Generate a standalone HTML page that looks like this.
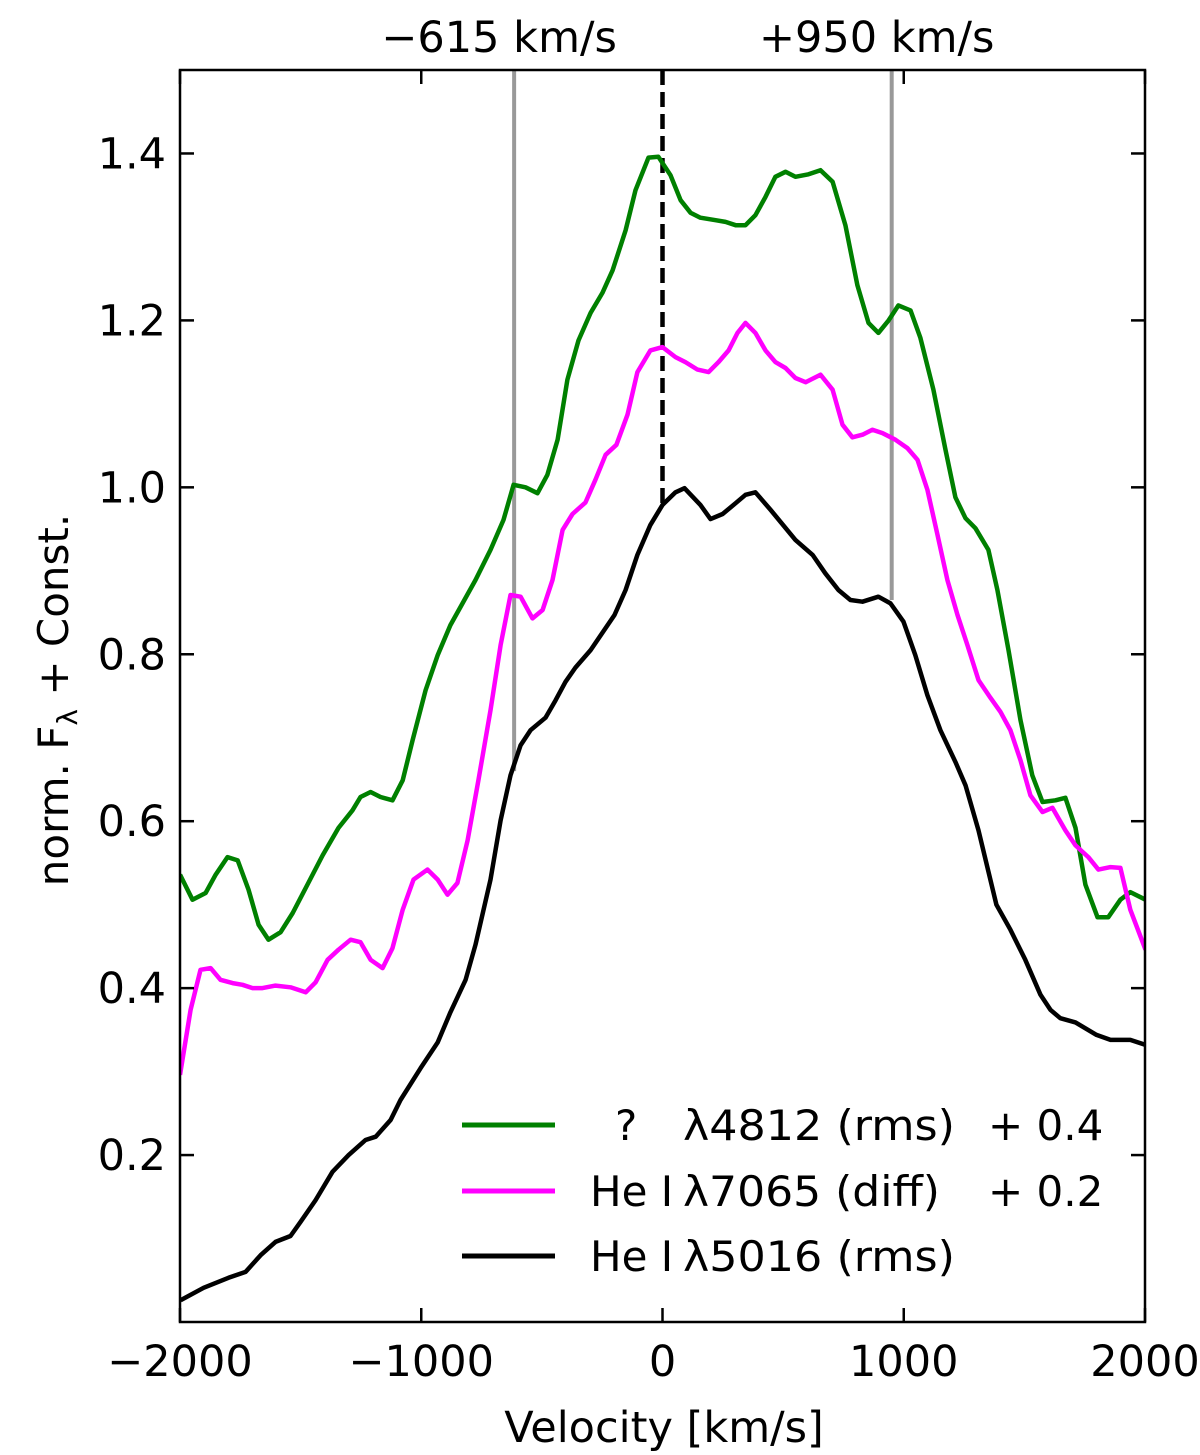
<!DOCTYPE html>
<html><head><meta charset="utf-8"><style>
html,body{margin:0;padding:0;background:#fff;}
svg{display:block;font-family:"DejaVu Sans","Liberation Sans",sans-serif;}
</style></head><body>
<svg id="chart" width="1200" height="1455" viewBox="0 0 1200 1455"></svg>
<script>
const xTickValues=[-2000,-1000,0,1000,2000];
const xTickLabels=["\u22122000","\u22121000","0","1000","2000"];
const yTickValues=[0.2,0.4,0.6,0.8,1.0,1.2,1.4];
const yTickLabels=["0.2","0.4","0.6","0.8","1.0","1.2","1.4"];
const markerVelocities=[-615,950];
const markerEnds=[0.66,0.865];
const markerLabels=["\u2212615 km/s","+950 km/s"];
const greenV=[-2000,-1948,-1894,-1852,-1803,-1761,-1716,-1674,-1633,-1583,-1533,-1479,-1409,-1343,-1285,-1252,-1210,-1169,-1119,-1077,-1036,-982,-932,-879,-829,-775,-713,-659,-617,-568,-518,-477,-435,-394,-348,-298,-249,-207,-153,-112,-58,-17,33,75,116,157,220,261,303,344,385,427,468,510,551,605,655,705,758,808,854,895,937,978,1028,1069,1123,1173,1214,1256,1297,1351,1388,1434,1484,1533,1575,1629,1670,1712,1753,1803,1848,1898,1939,2002];
const greenF=[0.536,0.506,0.514,0.536,0.557,0.553,0.518,0.476,0.458,0.467,0.490,0.520,0.559,0.592,0.613,0.629,0.635,0.629,0.625,0.649,0.697,0.757,0.799,0.835,0.861,0.889,0.925,0.961,1.003,1.000,0.993,1.015,1.057,1.129,1.176,1.209,1.233,1.260,1.308,1.356,1.395,1.396,1.374,1.344,1.329,1.323,1.320,1.318,1.314,1.314,1.326,1.348,1.372,1.378,1.372,1.375,1.380,1.366,1.314,1.242,1.197,1.185,1.200,1.218,1.212,1.179,1.117,1.045,0.988,0.963,0.951,0.925,0.877,0.805,0.721,0.655,0.623,0.625,0.628,0.592,0.524,0.485,0.485,0.506,0.515,0.506];
const magV=[-2000,-1956,-1915,-1873,-1832,-1782,-1741,-1699,-1658,-1604,-1542,-1479,-1438,-1388,-1343,-1293,-1252,-1210,-1160,-1119,-1077,-1032,-974,-932,-891,-850,-808,-763,-713,-671,-630,-588,-539,-497,-456,-414,-373,-319,-278,-236,-191,-145,-104,-50,0,54,95,145,191,232,274,311,344,385,427,468,510,551,593,655,705,746,787,829,870,912,966,1015,1057,1098,1140,1181,1223,1264,1310,1359,1401,1442,1484,1525,1575,1616,1670,1712,1765,1807,1857,1898,1939,2002];
const magF=[0.296,0.374,0.422,0.424,0.410,0.406,0.404,0.400,0.400,0.403,0.401,0.395,0.407,0.434,0.446,0.458,0.455,0.434,0.424,0.448,0.494,0.530,0.542,0.530,0.512,0.526,0.577,0.649,0.733,0.811,0.871,0.869,0.843,0.853,0.889,0.949,0.968,0.982,1.009,1.039,1.051,1.087,1.138,1.164,1.168,1.156,1.150,1.141,1.138,1.150,1.164,1.185,1.197,1.185,1.164,1.150,1.143,1.131,1.126,1.135,1.117,1.075,1.060,1.063,1.069,1.065,1.057,1.047,1.033,0.997,0.943,0.889,0.847,0.811,0.769,0.748,0.731,0.709,0.673,0.631,0.611,0.616,0.589,0.571,0.557,0.542,0.545,0.544,0.494,0.446];
const blackV=[-1998,-1902,-1799,-1728,-1666,-1604,-1542,-1500,-1438,-1368,-1301,-1231,-1189,-1127,-1086,-1003,-932,-879,-816,-775,-713,-671,-630,-588,-547,-485,-443,-402,-361,-298,-199,-153,-104,-50,0,54,91,157,199,249,303,344,385,448,551,622,675,729,779,829,895,945,999,1048,1098,1152,1214,1256,1310,1384,1442,1504,1567,1608,1649,1712,1799,1857,1939,2002];
const blackF=[0.026,0.041,0.053,0.060,0.080,0.096,0.103,0.120,0.146,0.180,0.200,0.218,0.222,0.242,0.266,0.304,0.335,0.371,0.410,0.452,0.530,0.601,0.655,0.691,0.709,0.724,0.745,0.767,0.784,0.805,0.847,0.877,0.919,0.955,0.979,0.994,0.999,0.979,0.962,0.968,0.981,0.991,0.994,0.973,0.937,0.919,0.897,0.877,0.865,0.863,0.869,0.861,0.839,0.799,0.751,0.709,0.671,0.643,0.589,0.500,0.470,0.434,0.392,0.374,0.364,0.359,0.344,0.338,0.338,0.332];

const L=180,R=1145,T=70,B=1322;
const xMin=-2000,xMax=2000,yMin=0,yMax=1.5;
const X=v=>L+(v-xMin)/(xMax-xMin)*(R-L);
const Y=f=>B-(f-yMin)/(yMax-yMin)*(B-T);
const svg=document.getElementById('chart');
const NS='http://www.w3.org/2000/svg';
function mk(tag,attrs,parent){const e=document.createElementNS(NS,tag);for(const k in attrs)e.setAttribute(k,attrs[k]);(parent||svg).appendChild(e);return e;}

const clip=mk('clipPath',{id:'pc'});mk('rect',{x:L,y:T,width:R-L,height:B-T},clip);

markerVelocities.forEach((v,i)=>{
  const ln=mk('line',{x1:X(v),x2:X(v),y1:T,y2:Y(markerEnds[i]),stroke:'#999',"stroke-width":4});
  
  
  const t=mk('text',{x:X(v)-15,y:52,"text-anchor":"middle","font-size":43,fill:'#000'});
  t.textContent=markerLabels[i];
  
  
});
const zl=mk('line',{x1:X(0),x2:X(0),y1:T,y2:Y(0.98),stroke:'#000',"stroke-width":4.5,"stroke-dasharray":"15,7"});



function series(vs,fs,color,name){
  const d=vs.map((v,i)=>(i?'L':'M')+X(v).toFixed(1)+','+Y(fs[i]).toFixed(1)).join(' ');
  const p=mk('path',{d:d,fill:'none',stroke:color,"stroke-width":4.5,"stroke-linejoin":"round","clip-path":"url(#pc)"});
  
  
}
series(greenV,greenF,'#008000','line-unknown-4812');
series(magV,magF,'#ff00ff','line-hei-7065');
series(blackV,blackF,'#000000','line-hei-5016');

const fr=mk('rect',{x:L,y:T,width:R-L,height:B-T,fill:'none',stroke:'#000',"stroke-width":2.5});



xTickValues.forEach((v,i)=>{
  mk('line',{x1:X(v),x2:X(v),y1:B,y2:B-14,stroke:'#000',"stroke-width":2.5});
  mk('line',{x1:X(v),x2:X(v),y1:T,y2:T+14,stroke:'#000',"stroke-width":2.5});
  const t=mk('text',{x:X(v),y:1376,"text-anchor":"middle","font-size":43});
  t.textContent=xTickLabels[i];
  
  
});
yTickValues.forEach((f,i)=>{
  mk('line',{x1:L,x2:L+14,y1:Y(f),y2:Y(f),stroke:'#000',"stroke-width":2.5});
  mk('line',{x1:R,x2:R-14,y1:Y(f),y2:Y(f),stroke:'#000',"stroke-width":2.5});
  const t=mk('text',{x:166,y:Y(f)+15,"text-anchor":"end","font-size":43});
  t.textContent=yTickLabels[i];
  
  
});
</script>
<svg style="position:absolute;left:0;top:0" width="1200" height="1455">
<text x="664" y="1442" text-anchor="middle" font-size="43" font-family="DejaVu Sans, Liberation Sans, sans-serif">Velocity [km/s]</text>
<text transform="translate(68,700) rotate(-90)" text-anchor="middle" font-size="42" font-family="DejaVu Sans, Liberation Sans, sans-serif">norm. F<tspan font-size="28" dy="9">λ</tspan><tspan dy="-9"> + Const.</tspan></text>
<g font-size="42" font-family="DejaVu Sans, Liberation Sans, sans-serif">
<line x1="462" x2="555" y1="1125" y2="1125" stroke="#008000" stroke-width="5"/>
<text y="1140"><tspan x="615">?</tspan><tspan x="683" textLength="272" lengthAdjust="spacingAndGlyphs">λ4812 (rms)</tspan><tspan x="988">+ 0.4</tspan></text>
<line x1="462" x2="555" y1="1191" y2="1191" stroke="#ff00ff" stroke-width="5"/>
<text y="1206"><tspan x="590">He I</tspan><tspan x="683" textLength="257" lengthAdjust="spacingAndGlyphs">λ7065 (diff)</tspan><tspan x="988">+ 0.2</tspan></text>
<line x1="462" x2="555" y1="1256" y2="1256" stroke="#000" stroke-width="5"/>
<text y="1271"><tspan x="590">He I</tspan><tspan x="683" textLength="272" lengthAdjust="spacingAndGlyphs">λ5016 (rms)</tspan></text>
</g>
</svg>
</body></html>
